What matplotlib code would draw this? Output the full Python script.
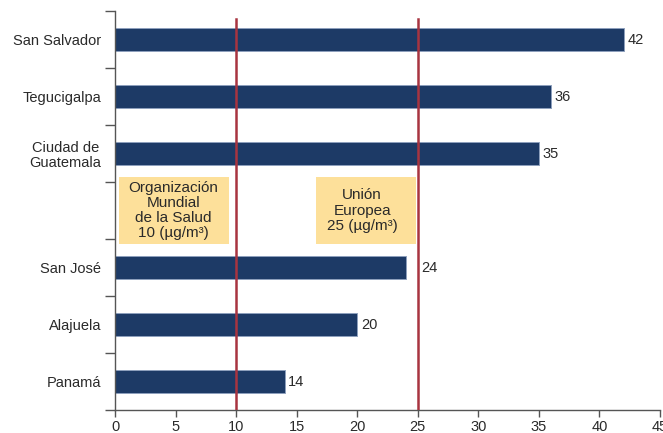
import numpy as np
import matplotlib
matplotlib.use("Agg")
import matplotlib.pyplot as plt
from matplotlib.patches import Rectangle

plt.rcParams['font.family'] = ['Liberation Sans', 'DejaVu Sans']

categories = ["San Salvador", "Tegucigalpa", "Ciudad de\nGuatemala", "", "San José", "Alajuela", "Panamá"]
values = [42, 36, 35, np.nan, 24, 20, 14]
ref_lines = [10, 25]
oms_text = "Organización\nMundial\nde la Salud\n10 (µg/m³)"
ue_text = "Unión\nEuropea\n25 (µg/m³)"
x_ticks = [0, 5, 10, 15, 20, 25, 30, 35, 40, 45]

fig = plt.figure(figsize=(6.63, 4.33), dpi=100)
ax = fig.add_axes([115/663, 1 - 410/433, 545/663, 399/433])

bar_color = "#1D3A66"
ypos = np.arange(len(categories))
for y, v in zip(ypos, values):
    if np.isnan(v):
        continue
    ax.barh(y, v, height=0.41, color=bar_color, edgecolor="#8DA0BD", linewidth=0.7, zorder=2)
    lx = v + 0.3
    for r in ref_lines:
        if v <= r and v + 1.6 > r:
            lx = r + 0.27
    ax.text(lx, y, f"{v:g}", va="center", ha="left", fontsize=10.5, color="#2a2a2a", zorder=4)

ax.set_xlim(0, 45)
ax.set_ylim(len(categories) - 0.5, -0.5)

# annotation boxes
ax.add_patch(Rectangle((0.33, 2.42), 9.1, 1.16, facecolor="#FDE09A", edgecolor="none", zorder=1))
ax.add_patch(Rectangle((16.6, 2.42), 8.25, 1.16, facecolor="#FDE09A", edgecolor="none", zorder=1))
ax.text(4.8, 3.0, oms_text, ha="center", va="center", fontsize=11, color="#2a2a2a",
        linespacing=1.1, multialignment="center", zorder=4)
ax.text(20.4, 3.0, ue_text, ha="center", va="center", fontsize=11, color="#2a2a2a",
        linespacing=1.1, multialignment="center", zorder=4)

for xv in ref_lines:
    ax.axvline(xv, ymin=0, ymax=(410 - 19) / 399, color="#A83440", linewidth=1.8, zorder=3)

# axes styling
for s in ["top", "right"]:
    ax.spines[s].set_visible(False)
for s in ["left", "bottom"]:
    ax.spines[s].set_color("#555555")
    ax.spines[s].set_linewidth(1.0)

ax.set_xticks(x_ticks)
ax.set_xticklabels([str(t) for t in x_ticks])
ax.tick_params(axis="x", length=5, width=1, color="#555555", labelsize=10.5, labelcolor="#2a2a2a", pad=2)

ax.set_yticks(ypos)
ax.set_yticklabels(categories)
ax.tick_params(axis="y", which="major", length=0, labelsize=10.5, labelcolor="#2a2a2a", pad=10)
ax.set_yticks(np.arange(-0.5, len(categories), 1.0), minor=True)
ax.tick_params(axis="y", which="minor", length=7, width=1, color="#555555")
for lbl in ax.get_yticklabels():
    lbl.set_multialignment("center")
    lbl.set_linespacing(1.1)

fig.savefig("out.png", dpi=100)
